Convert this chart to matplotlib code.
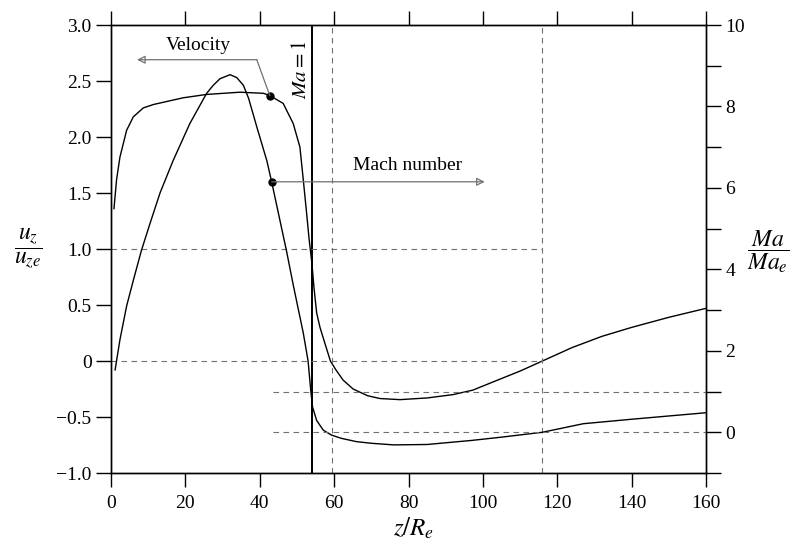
import numpy as np
import matplotlib.pyplot as plt

plt.rcParams['font.family'] = ['Liberation Serif', 'DejaVu Serif']
plt.rcParams['mathtext.fontset'] = 'stix'

# axial velocity u_z/u_ze (left axis)
z_vel = [0.8, 1.5, 2.4, 4.2, 6.0, 8.7, 11.4, 19.4, 25.7, 34.7, 41.0, 42.7, 46.3,
         49.0, 50.8, 51.7, 52.6, 53.3, 54.0, 54.6, 55.3, 56.2, 57.5, 59.0, 60.5,
         62.4, 65.1, 69.0, 72.3, 77.7, 85.0, 92.0, 97.3, 104.0, 110.0, 116.0,
         124.0, 132.0, 140.0, 150.0, 160.0]
u_vel = [1.36, 1.62, 1.82, 2.06, 2.18, 2.26, 2.29, 2.35, 2.38, 2.40, 2.39, 2.37, 2.30,
         2.12, 1.91, 1.62, 1.32, 1.08, 0.88, 0.65, 0.43, 0.30, 0.16, 0.00, -0.08,
         -0.17, -0.25, -0.31, -0.335, -0.345, -0.33, -0.30, -0.26, -0.17, -0.09, 0.00,
         0.12, 0.22, 0.30, 0.39, 0.47]

# Mach number ratio Ma/Ma_e (right axis)
z_mach = [1.1, 2.4, 4.2, 6.0, 8.2, 10.5, 13.2, 16.7, 21.2, 25.7, 27.5, 29.3, 32.0,
          33.8, 35.6, 37.0, 39.2, 41.9, 43.2, 47.2, 49.0, 51.7, 53.0, 53.7, 54.2,
          55.3, 57.1, 59.3, 62.0, 66.0, 70.0, 76.0, 85.0, 97.0, 105.0, 116.0, 127.0,
          140.0, 150.0, 160.0]
ma_mach = [1.53, 2.27, 3.10, 3.73, 4.47, 5.13, 5.88, 6.67, 7.58, 8.32, 8.52, 8.68, 8.78,
           8.71, 8.52, 8.20, 7.50, 6.67, 6.15, 4.45, 3.62, 2.44, 1.75, 1.04, 0.62,
           0.29, 0.05, -0.07, -0.15, -0.23, -0.27, -0.31, -0.30, -0.20, -0.12, 0.00, 0.21,
           0.32, 0.40, 0.48]

x_ticks = [0, 20, 40, 60, 80, 100, 120, 140, 160]
left_ticks = [-1.0, -0.5, 0, 0.5, 1.0, 1.5, 2.0, 2.5, 3.0]
left_labels = ['\u22121.0', '\u22120.5', '0', '0.5', '1.0', '1.5', '2.0', '2.5', '3.0']
right_ticks = [0, 2, 4, 6, 8, 10]
right_minor = [-1, 1, 3, 5, 7, 9]

z_sonic = 54.0
z_ref = [59.3, 116.0]
vel_dot = (42.7, 2.37)
mach_dot = (43.2, 6.15)

dash = (0, (5, 4))
grey = '#707070'

fig = plt.figure(figsize=(8.06, 5.47), dpi=100)
ax = fig.add_axes([111/806, 74/547, 595/806, 448/547])
ax.set_xlim(0, 160)
ax.set_ylim(-1, 3)

ax.plot(z_vel, u_vel, color='black', lw=1.0)

# reference lines
ax.axvline(z_sonic, color='black', lw=1.4)
for zr in z_ref:
    ax.axvline(zr, color=grey, lw=0.8, ls=dash)
ax.hlines([1.0, 0.0], 0, 116, colors=grey, lw=0.8, linestyles=[dash])

ax.text(51.3, 2.6, '$Ma=1$', rotation=90, ha='center', va='center', fontsize=15)

ax.set_xticks(x_ticks)
ax.set_xticklabels([str(t) for t in x_ticks])
ax.set_yticks(left_ticks)
ax.set_yticklabels(left_labels)
ax.tick_params(axis='x', which='both', direction='out', length=10, width=1,
               top=True, labeltop=False, labelsize=14, pad=6)
ax.tick_params(axis='y', direction='out', length=11, width=1, labelsize=14, pad=3)

ax2 = ax.twinx()
ax2.set_ylim(-1, 10)
ax2.plot(z_mach, ma_mach, color='black', lw=1.0)
ax2.hlines([1.0, 0.0], 43.5, 160, colors=grey, lw=0.8, linestyles=[dash])
ax2.set_yticks(right_ticks)
ax2.set_yticks(right_minor, minor=True)
ax2.tick_params(axis='y', which='both', direction='out', length=11, width=1,
                labelsize=14, pad=3)

# annotations
ax.plot(*vel_dot, 'o', color='black', ms=5)
ax2.plot(*mach_dot, 'o', color='black', ms=5)
ax.plot([vel_dot[0], 39.2], [vel_dot[1], 2.69], color=grey, lw=0.9)
ax.annotate('', xy=(7.0, 2.69), xytext=(39.2, 2.69),
            arrowprops=dict(arrowstyle='-|>', color=grey, lw=0.9,
                            mutation_scale=12, fill=False, shrinkA=0, shrinkB=0))
ax.text(23.4, 2.82, 'Velocity', ha='center', va='center', fontsize=14)
ax2.annotate('', xy=(100.5, mach_dot[1]), xytext=mach_dot,
             arrowprops=dict(arrowstyle='-|>', color=grey, lw=0.9,
                             mutation_scale=12, fill=False, shrinkA=0, shrinkB=0))
ax.text(79.7, 1.75, 'Mach number', ha='center', va='center', fontsize=14)

for a in (ax, ax2):
    for s in a.spines.values():
        s.set_linewidth(1.0)

fig.text(28/806, 1 - 248/547, r'$\dfrac{u_z}{u_{ze}}$', ha='center', va='center',
         fontsize=17)
fig.text(768/806, 1 - 252/547, r'$\dfrac{Ma}{Ma_e}$', ha='center', va='center',
         fontsize=17)
fig.text(414/806, 1 - 528/547, r'$z/R_e$', ha='center', va='center', fontsize=18)

fig.savefig('out.png', dpi=100)
